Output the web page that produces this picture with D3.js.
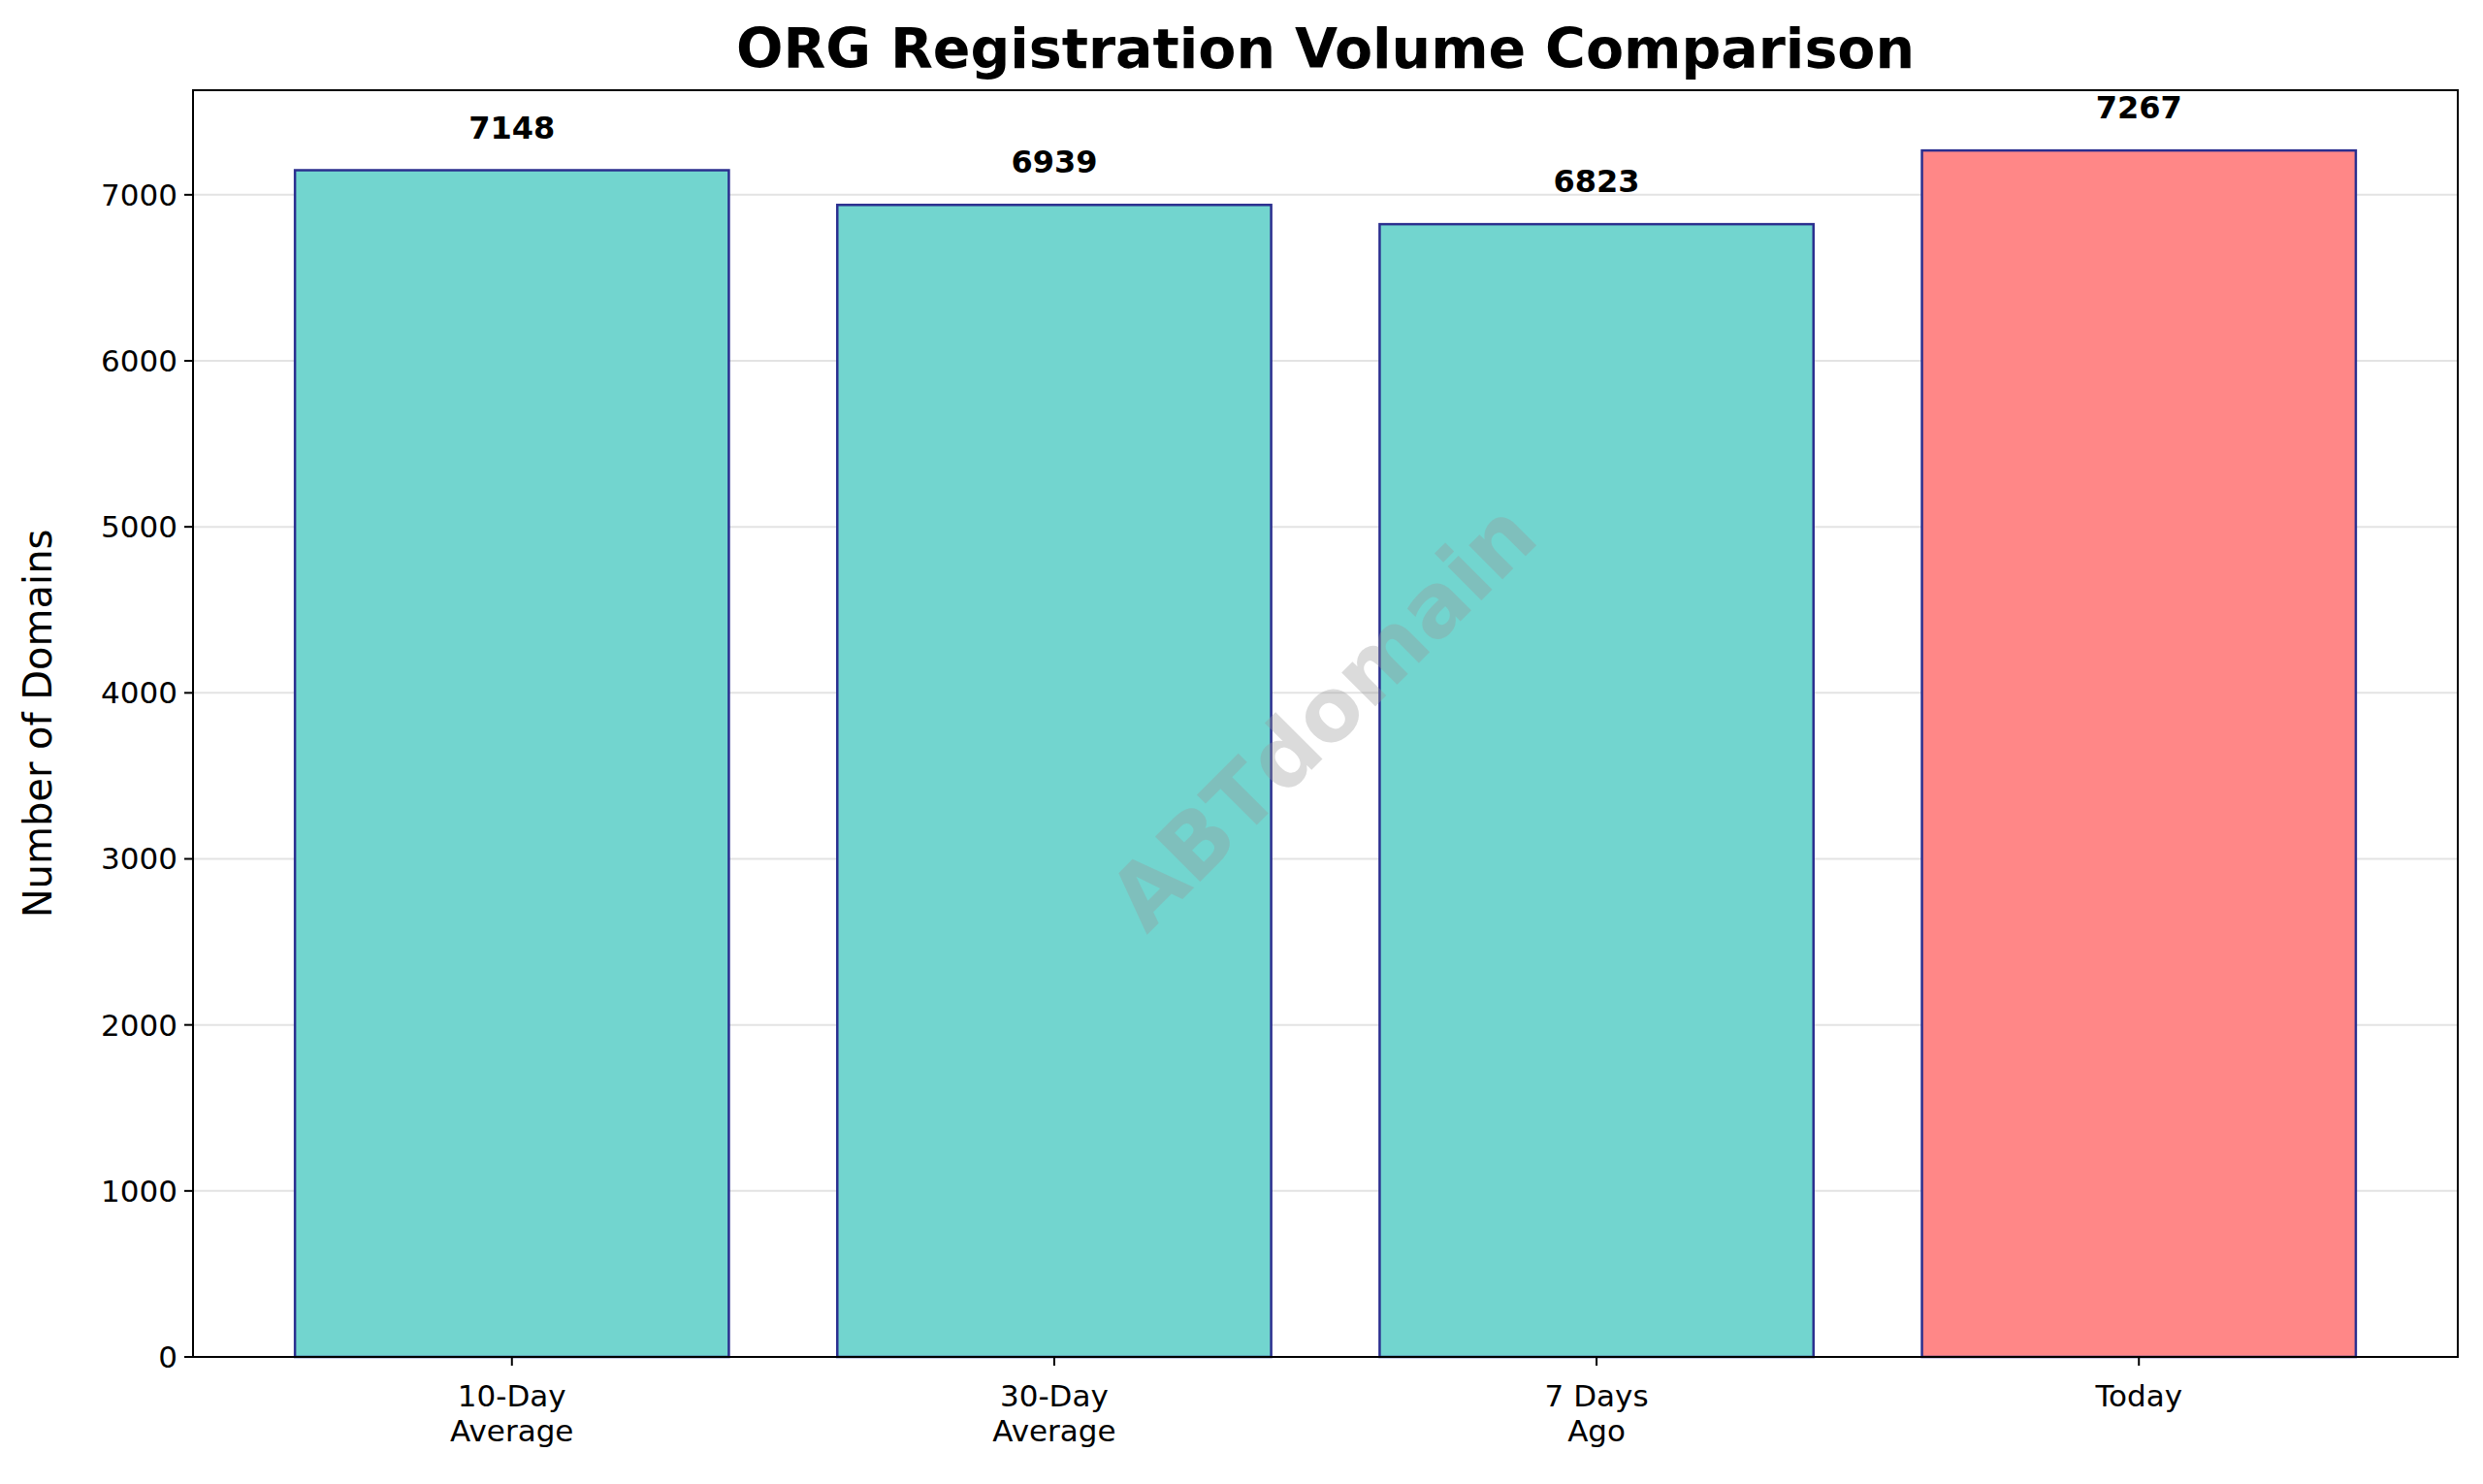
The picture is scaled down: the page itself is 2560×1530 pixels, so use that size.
<!DOCTYPE html>
<html><head><meta charset="utf-8">
<script src="https://cdn.jsdelivr.net/npm/d3@7"></script>
<style>body{margin:0;background:#fff}svg{font-family:"DejaVu Sans",sans-serif}</style>
</head><body><svg id="c" width="2560" height="1530"></svg>
<script>
const categories = ["10-Day\nAverage", "30-Day\nAverage", "7 Days\nAgo", "Today"];
const values = [7148, 6939, 6823, 7267];
const colors = ["#72d5cf", "#72d5cf", "#72d5cf", "#ff8787"];
const yTicks = [0,1000,2000,3000,4000,5000,6000,7000];

const svg = d3.select("#c");
const L=199, R=2534, T=93, B=1399;
const x = d3.scaleLinear().domain([-0.588, 3.588]).range([L,R]);
const y = d3.scaleLinear().domain([0, 7630]).range([B,T]);
const bw = x(0.8)-x(0);

svg.append("g").selectAll("line").data(yTicks.slice(1)).join("line")
  .attr("x1",L).attr("x2",R).attr("y1",d=>y(d)).attr("y2",d=>y(d))
  .attr("stroke","#e3e3e3").attr("stroke-width",2);

svg.append("g").selectAll("rect").data(values).join("rect")
  .attr("x",(d,i)=>x(i)-bw/2).attr("width",bw)
  .attr("y",d=>y(d)).attr("height",d=>B-y(d))
  .attr("fill",(d,i)=>colors[i]).attr("stroke","#2b2f8f").attr("stroke-width",2.5);

svg.append("g").selectAll("text").data(values).join("text")
  .attr("x",(d,i)=>x(i)).attr("y",d=>y(d)-33)
  .attr("text-anchor","middle").attr("font-size",32).attr("font-weight","bold").text(d=>d);

svg.append("text").attr("transform","translate(1368,743) rotate(-45)")
  .attr("text-anchor","middle").attr("dominant-baseline","middle")
  .attr("font-size",90).attr("font-weight","bold").attr("fill","#999").attr("opacity",0.35).text("ABTdomain");

svg.append("rect").attr("x",L).attr("y",T).attr("width",R-L).attr("height",B-T)
  .attr("fill","none").attr("stroke","#000").attr("stroke-width",2);

const ya = svg.append("g");
yTicks.forEach(t=>{
  ya.append("line").attr("x1",L-9).attr("x2",L).attr("y1",y(t)).attr("y2",y(t)).attr("stroke","#000").attr("stroke-width",2);
  ya.append("text").attr("x",L-16).attr("y",y(t)).attr("dy","0.35em").attr("text-anchor","end").attr("font-size",31).text(t);
});
categories.forEach((c,i)=>{
  svg.append("line").attr("x1",x(i)).attr("x2",x(i)).attr("y1",B).attr("y2",B+9).attr("stroke","#000").attr("stroke-width",2);
  const tx = svg.append("text").attr("text-anchor","middle").attr("font-size",31);
  c.split("\n").forEach((s,k)=>tx.append("tspan").attr("x",x(i)).attr("y",B+51+k*36).text(s));
});
svg.append("text").attr("transform",`translate(53,${(T+B)/2}) rotate(-90)`).attr("text-anchor","middle")
  .attr("font-size",40).text("Number of Domains");
svg.append("text").attr("x",(L+R)/2).attr("y",70).attr("text-anchor","middle")
  .attr("font-size",57).attr("font-weight","bold").text("ORG Registration Volume Comparison");
</script></body></html>
